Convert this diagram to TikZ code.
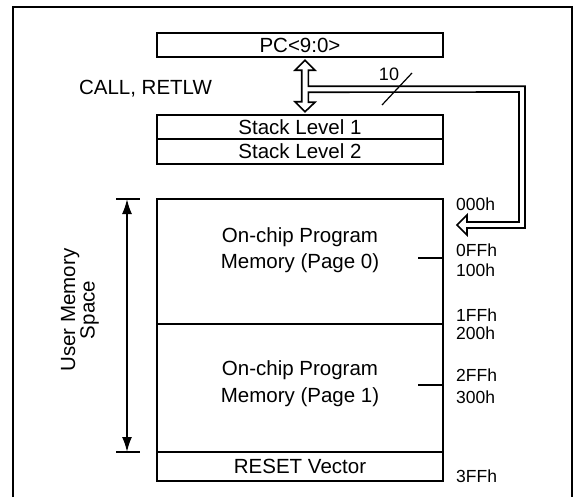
\documentclass[tikz,border=0pt]{standalone}
\usepackage{fontspec}
\setmainfont{Liberation Sans}
\usetikzlibrary{positioning, arrows.meta, calc}

\begin{document}
\begin{tikzpicture}[
    x=1pt, y=-1pt,
    font=\fontsize{20.5}{24}\selectfont,
    box/.style={
        draw, line width=2pt,
        inner sep=0pt, outer sep=0pt,
        minimum width=286pt
    },
    regbox/.style={box, minimum height=24.5pt},
    membox/.style={box},
    addr/.style={font=\fontsize{17.5}{18}\selectfont, anchor=west, inner sep=0pt},
    pipe/.style={line width=1.6pt, line join=miter},
    tick/.style={line width=1.8pt},
    frame/.style={line width=2.4pt}
]
\useasboundingbox (0,0) rectangle (585,497);

% ===================== OUTER FRAME =====================
\draw[frame] (13,497) -- (13,7) -- (572,7) -- (572,497);

% ===================== PC AND STACK =====================
\node[regbox] (pc) at (300,45) {PC<9:0>};
\node[regbox] (stack1) at (300,127) {Stack Level 1};
\node[regbox, below=0pt of stack1] (stack2) {Stack Level 2};

\node (call) at (145.5,89) {CALL, RETLW};

% ===================== PROGRAM MEMORY =====================
\node[membox, minimum height=125pt] (page0) at (300,261.5) {};
\node[membox, minimum height=128pt, below=0pt of page0] (page1) {};
\node[regbox, minimum height=29pt, below=0pt of page1] (reset) {RESET Vector};

\node[align=center, font=\fontsize{20.5}{26.5}\selectfont] (page0txt) at (300,250)
{On-chip Program\\Memory (Page 0)};
\node[align=center, font=\fontsize{20.5}{26.5}\selectfont] (page1txt) at (300,383.5)
{On-chip Program\\Memory (Page 1)};

% page boundary ticks inside the right edge
\draw[tick] (page0.east |- 0,258) -- ++(-25,0);
\draw[tick] (page1.east |- 0,385) -- ++(-25,0);

% ===================== ADDRESSES =====================
\node[addr] (a000) at (456,204) {000h};
\node[addr] (a0FF) at (456,250) {0FFh};
\node[addr] (a100) at (456,270) {100h};
\node[addr] (a1FF) at (456,315) {1FFh};
\node[addr] (a200) at (456,333) {200h};
\node[addr] (a2FF) at (456,375) {2FFh};
\node[addr] (a300) at (456,397) {300h};
\node[addr] (a3FF) at (456,476.5) {3FFh};

% ===================== CALL / RETLW BUS =====================
% hollow double arrow between PC and stack, with a 10-bit bus to 000h
\coordinate (pcTip) at ($(pc.south)+(5,3)$);
\coordinate (memTip) at ($(page0.north east)+(14,26)$);
\draw[pipe]
  ($(pcTip)+(-3.3,10)$) -- ++(-6.7,0) -- (pcTip) -- ++(10,10) -- ++(-6.7,0)
  -- ++(0,16) -- ($(pcTip -| 525,0)+(0,26)$) -- (525,228) -- (467,228)
  -- ++(0,7) -- (memTip) -- ++(10,-10) -- ++(0,7) -- (519,222) -- (519,92)
  -- ($(pcTip)+(3.3,32)$) -- ++(0,10) -- ++(6.7,0) -- ($(stack1.north)+(5,-3)$)
  -- ++(-10,-10) -- ++(6.7,0) -- cycle;

% bus width mark
\draw[line width=1.2pt] (382,105) -- (412,73);
\node[font=\fontsize{18}{18}\selectfont] (buswidth) at (389,74) {10};

% ===================== USER MEMORY SPACE =====================
\coordinate (umTop) at ($(page0.north west)+(-30,0)$);
\coordinate (umBot) at ($(reset.north west)+(-30,0)$);
\draw[tick] ($(umTop)+(-11,0)$) -- ++(24,0);
\draw[tick] ($(umBot)+(-11,0)$) -- ++(24,0);
\draw[line width=1.8pt, {Latex[length=15pt,width=10pt]}-{Latex[length=15pt,width=10pt]}]
  (umTop) -- (umBot);
\node[rotate=90, align=center, font=\fontsize{20.5}{19.5}\selectfont] (umtext) at (80,310)
{User Memory\\Space};

\end{tikzpicture}
\end{document}
